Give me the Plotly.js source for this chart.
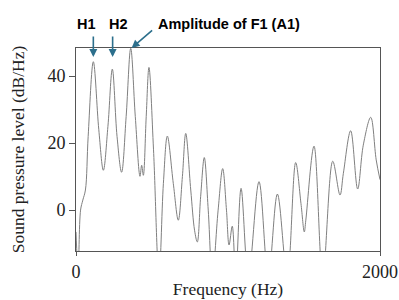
<!DOCTYPE html>
<html>
<head>
<meta charset="utf-8">
<script src="https://cdn.plot.ly/plotly-3.0.1.min.js"></script>
<style>html,body{margin:0;padding:0;background:#fff;}#chart{width:399px;height:300px;}</style>
</head>
<body>
<div id="chart"></div>
<script>
const freqHz = [0, 14, 30, 45, 62, 80, 114, 150, 180, 210, 239, 270, 300, 330, 360, 390, 421, 432, 443, 462, 480, 510, 546, 575, 601, 640, 673, 700, 722, 755, 780, 798, 820, 844, 870, 897, 935, 965, 990, 1007, 1028, 1051, 1086, 1134, 1204, 1265, 1325, 1390, 1445, 1480, 1502, 1512, 1566, 1623, 1689, 1737, 1759, 1807, 1853, 1890, 1939, 1975, 2000];
const splDb = [-6.5, -18, 0, 3, 6, 22, 44.3, 24, 11.9, 25, 42.1, 22, 11.3, 28, 48.3, 28, 10.1, 13.4, 10.4, 28, 42.6, 18, -20, 8, 22.1, 8, -3, 10, 22.9, 6, -6, -9.5, 4, 15.7, 0, -20, 0, 12.4, 0, -10.4, -4.8, -20, 6.5, -20, 8.5, -20, 4.8, -20, 14.2, 2, -6.5, -3, 19.1, -20, 14.6, 4.5, 11, 23.7, 6.3, 19.4, 27.7, 15, 9.1];
const xTicks = [0, 2000];
const yTicks = [0, 20, 40];
const labels = ["H1", "H2", "Amplitude of F1 (A1)"];
const arrowTargetHz = [114, 241, 366];
const arrowTargetDb = [45.7, 45.7, 48.4];

const tickFont = {family: "Liberation Serif, Times New Roman, serif", size: 18, color: "#222"};
const titleFont = {family: "Liberation Serif, Times New Roman, serif", size: 17.5, color: "#222"};
const annFont = {family: "Liberation Sans, Arial, sans-serif", size: 14.5, color: "#000"};
const arrowColor = "#2c6f8c";

const trace = {
  x: freqHz, y: splDb, type: "scatter", mode: "lines",
  line: {color: "#808080", width: 1, shape: "spline", smoothing: 1},
  hoverinfo: "skip"
};

const arrowBase = {xref: "x", yref: "y", text: "", showarrow: true, arrowhead: 2, arrowsize: 1,
  arrowwidth: 1.6, arrowcolor: arrowColor, standoff: 0, startstandoff: 0};

const layout = {
  width: 399, height: 300,
  margin: {l: 76, r: 19, t: 48, b: 49},
  paper_bgcolor: "#fff", plot_bgcolor: "#fff",
  showlegend: false,
  xaxis: {
    range: [0, 2000], tickvals: xTicks, ticktext: xTicks.map(String),
    ticks: "outside", ticklen: 4, tickcolor: "#555", tickwidth: 1,
    showline: true, linecolor: "#555", linewidth: 1, mirror: true,
    showgrid: false, zeroline: false,
    tickfont: tickFont,
    title: {text: "Frequency (Hz)", font: titleFont, standoff: 2}
  },
  yaxis: {
    range: [-12.2, 48.4], tickvals: yTicks, ticktext: yTicks.map(String),
    ticks: "outside", ticklen: 6, tickcolor: "#555", tickwidth: 1,
    showline: true, linecolor: "#555", linewidth: 1, mirror: true,
    showgrid: false, zeroline: false,
    tickfont: tickFont,
    title: {text: "Sound pressure level (dB/Hz)", font: titleFont, standoff: 18}
  },
  annotations: [
    {xref: "paper", yref: "paper", x: 0.036, y: 1.118, xanchor: "center", yanchor: "middle",
     text: "<b>" + labels[0] + "</b>", font: annFont, showarrow: false},
    {xref: "paper", yref: "paper", x: 0.14, y: 1.118, xanchor: "center", yanchor: "middle",
     text: "<b>" + labels[1] + "</b>", font: annFont, showarrow: false},
    {xref: "paper", yref: "paper", x: 0.263, y: 1.118, xanchor: "left", yanchor: "middle",
     text: "<b>" + labels[2] + "</b>", font: annFont, showarrow: false},
    Object.assign({}, arrowBase, {x: arrowTargetHz[0], y: arrowTargetDb[0], ax: 0, ay: -22}),
    Object.assign({}, arrowBase, {x: arrowTargetHz[1], y: arrowTargetDb[1], ax: 0, ay: -22}),
    Object.assign({}, arrowBase, {x: arrowTargetHz[2], y: arrowTargetDb[2], ax: 22, ay: -19})
  ]
};

Plotly.newPlot("chart", [trace], layout, {staticPlot: true, displayModeBar: false});
</script>
</body>
</html>
